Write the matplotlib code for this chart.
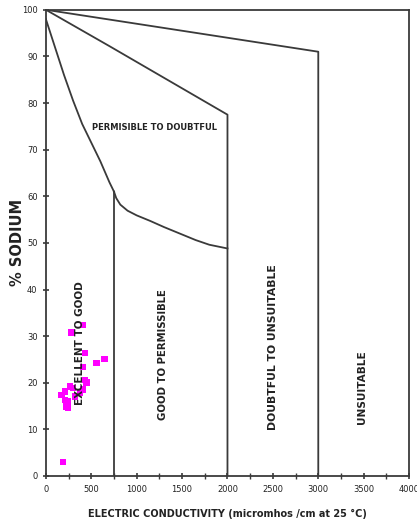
import matplotlib
matplotlib.use("Agg")
import matplotlib.pyplot as plt
import numpy as np

# Wilcox diagram boundaries (EC in micromhos/cm, % sodium)
upper_line_ec = [0, 3000, 3000]
upper_line_na = [100, 91, 0]

middle_line_ec = [0, 700, 2000, 2000]
middle_line_na = [100, 92.2, 77.5, 0]

lower_curve_ec = [0, 50, 100, 200, 300, 400, 500, 600, 700, 750]
lower_curve_na = [98, 95, 92, 86, 80.5, 75.5, 71.5, 67.5, 63, 61]

inner_curve_ec = [750, 775, 820, 900, 1000, 1150, 1300, 1500, 1650, 1800, 2000]
inner_curve_na = [61, 59.6, 58.2, 56.9, 55.9, 54.7, 53.4, 51.8, 50.6, 49.6, 48.8]

good_line_ec = [750, 750]
good_line_na = [61, 0]

# Water samples
sample_ec = [187, 283, 411, 430, 559, 643, 210, 173, 246, 246, 301, 320,
             375, 411, 448, 430, 210, 265, 228, 411]
sample_na = [3.0, 30.8, 32.4, 26.4, 24.2, 25.1, 18.1, 17.4, 16.0, 14.6,
             18.9, 17.0, 17.8, 18.5, 20.0, 20.6, 16.3, 19.2, 14.9, 23.4]

x_ticks = [0, 500, 1000, 1500, 2000, 2500, 3000, 3500, 4000]
y_ticks = [0, 10, 20, 30, 40, 50, 60, 70, 80, 90, 100]

line_color = "#3a3a3a"
text_color = "#222222"

fig = plt.figure(figsize=(4.17, 5.28), dpi=100)
ax = fig.add_axes([0.110, 0.0985, 0.871, 0.883])

for xs, ys in [(upper_line_ec, upper_line_na), (middle_line_ec, middle_line_na),
               (lower_curve_ec, lower_curve_na), (inner_curve_ec, inner_curve_na),
               (good_line_ec, good_line_na)]:
    ax.plot(xs, ys, color=line_color, lw=1.3, solid_joinstyle="round")

ax.scatter(sample_ec, sample_na, marker="s", s=22, color="#ff00ff", zorder=3,
           edgecolors="none")

ax.text(1200, 74.7, "PERMISIBLE TO DOUBTFUL", fontsize=6, fontweight="bold",
        ha="center", va="center", color=text_color)
ax.text(375, 28.5, "EXCELLENT TO GOOD", fontsize=7.5, fontweight="bold",
        rotation=90, ha="center", va="center", color=text_color)
ax.text(1290, 26, "GOOD TO PERMISSIBLE", fontsize=7.3, fontweight="bold",
        rotation=90, ha="center", va="center", color=text_color)
ax.text(2500, 27.7, "DOUBTFUL TO UNSUITABLE", fontsize=7.8, fontweight="bold",
        rotation=90, ha="center", va="center", color=text_color)
ax.text(3480, 19.1, "UNSUITABLE", fontsize=7.6, fontweight="bold",
        rotation=90, ha="center", va="center", color=text_color)

ax.set_xlim(0, 4000)
ax.set_ylim(0, 100)
ax.set_xticks(x_ticks)
ax.set_xticks(np.arange(0, 4001, 250), minor=True)
ax.set_yticks(y_ticks)
ax.tick_params(axis="both", which="both", direction="inout", color=line_color,
               labelsize=6, labelcolor=text_color)
ax.tick_params(axis="both", which="major", length=5, width=1.2)
ax.tick_params(axis="x", which="minor", length=4, width=1.0)
ax.tick_params(axis="x", pad=4)

for side in ["left", "bottom", "top", "right"]:
    ax.spines[side].set_color(line_color)
    ax.spines[side].set_linewidth(1.3)

ax.set_xlabel("ELECTRIC CONDUCTIVITY (micromhos /cm at 25 °C)", fontsize=7,
              fontweight="bold", color=text_color, labelpad=11)
ax.set_ylabel("% SODIUM", fontsize=10.5, fontweight="bold", color=text_color)
ax.yaxis.set_label_coords(-0.058, 0.5)

fig.savefig("out.png", dpi=100)
